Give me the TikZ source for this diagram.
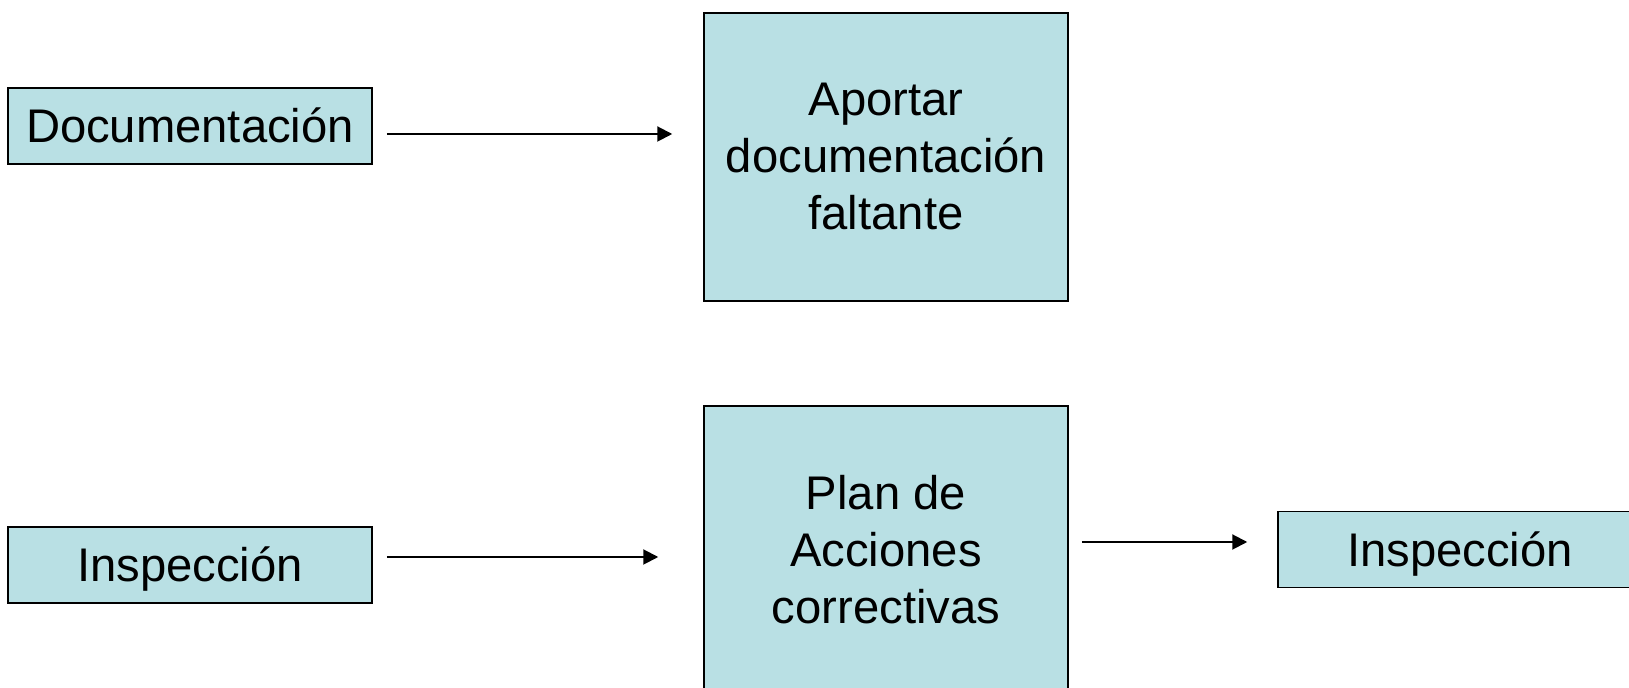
\documentclass[tikz,border=0pt]{standalone}
\usepackage{fontspec}
\setmainfont{Liberation Sans}
\usetikzlibrary{arrows.meta}
\definecolor{cajafondo}{RGB}{185,224,228}

\begin{document}
\begin{tikzpicture}[x=0.5pt,y=-0.5pt,
    caja/.style={draw=black,line width=0.75pt,fill=cajafondo,align=center,
        inner sep=0pt,font=\fontsize{23.6pt}{28.5pt}\selectfont},
    chica/.style={caja,minimum width=182pt,minimum height=38pt,text height=17pt,text depth=0pt},
    grande/.style={caja,minimum width=182pt,minimum height=144pt,text depth=1pt},
    flecha/.style={line width=1pt,-{Triangle[length=7.5pt,width=7.5pt]}}]
    \useasboundingbox (0,0) rectangle (1629,688);
    \begin{scope}
    \clip (0,0) rectangle (1629,688);
    \node[chica] (doc) at (190,126) {Documentación};
    \node[grande] (aport) at (886,157) {Aportar\\documentación\\faltante};
    \node[chica] (insp1) at (190,565) {Inspección};
    \node[grande] (plan) at (886,550) {Plan de\\Acciones\\correctivas};
    \node[chica] (insp2) at (1460,549.5) {Inspección};
    \end{scope}
    \draw [flecha] ([xshift=7pt,yshift=-4pt]doc.east) -- ([xshift=-15.5pt,yshift=-4pt]doc.east -| aport.west);
    \draw [flecha] ([xshift=7pt,yshift=4pt]insp1.east) -- ([xshift=-22.5pt,yshift=4pt]insp1.east -| plan.west);
    \draw [flecha] ([xshift=6.5pt,yshift=4pt]plan.east) -- ([xshift=-15pt,yshift=4pt]plan.east -| insp2.west);
\end{tikzpicture}
\end{document}
